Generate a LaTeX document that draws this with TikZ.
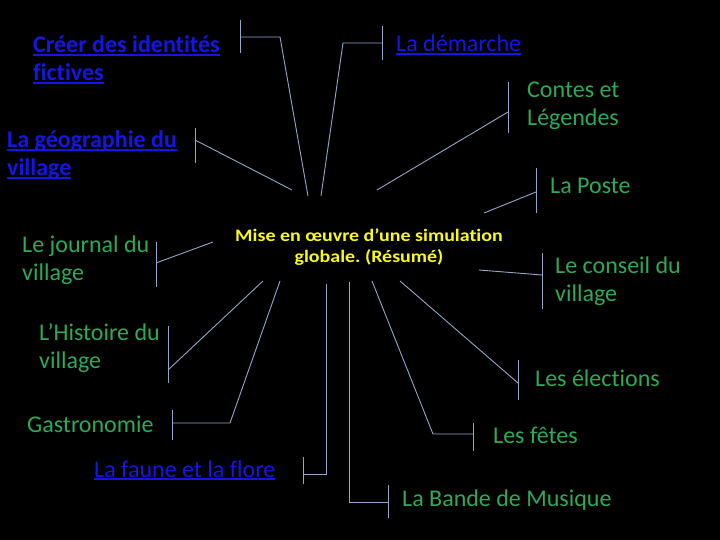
\documentclass[tikz,border=0pt]{standalone}
\usepackage{fontspec}
\setmainfont[Ligatures=NoCommon]{Carlito}
\usepackage{tikz}
\usetikzlibrary{calc,positioning}
\definecolor{bleuL}{RGB}{22,22,228}
\definecolor{vertL}{RGB}{45,170,85}
\definecolor{jauneL}{RGB}{250,250,25}
\definecolor{traitL}{RGB}{150,165,200}
\frenchspacing
% souligne un lien (trait plus epais que \underline)
\newcommand{\lien}[1]{\setbox0\hbox{#1}\rlap{\rule[-2.6pt]{\wd0}{1.8pt}}\box0}
% titre un peu elargi
\newcommand{\elargi}[1]{\scalebox{1.14}[1]{#1}}

\begin{document}
\begin{tikzpicture}[x=1pt,y=-1pt,
    vert/.style={text=vertL, font=\fontsize{24}{28}\selectfont, inner sep=0pt, anchor=base west, align=left},
    bleu/.style={text=bleuL, font=\fontsize{24}{28}\selectfont, inner sep=0pt, anchor=base west, align=left},
    titre/.style={text=jauneL, font=\fontsize{17.5}{21}\selectfont\bfseries, inner sep=0pt, anchor=base, align=center},
    branche/.style={traitL, line width=0.9pt}]
      % fond noir, taille de la diapositive
      \fill[black] (0,0) rectangle (720,540);
      \useasboundingbox (0,0) rectangle (720,540);

      % Titre central (ancre = ligne de base de la derniere ligne)
      \node[titre] (titre) at (369,262) {\elargi{Mise en œuvre d’une simulation}\\\elargi{globale. (Résumé)}};

      % Etiquettes (liens en bleu, rubriques en vert)
      \node[bleu] (creer) at (33,81) {\bfseries\lien{Créer des identités}\\\bfseries\lien{fictives}};
      \node[bleu] (demarche) at (396,52) {\lien{La démarche}};
      \node[bleu] (geo) at (7,176) {\bfseries\lien{La géographie du}\\\bfseries\lien{village}};
      \node[vert] (contes) at (527,126) {Contes et\\Légendes};
      \node[vert] (poste) at (550,194) {La Poste};
      \node[vert] (journal) at (22,280) {Le journal du\\village};
      \node[vert] (conseil) at (555,301) {Le conseil du\\village};
      \node[vert] (histoire) at (39,368) {L’Histoire du\\village};
      \node[vert] (elections) at (535,386) {Les élections};
      \node[vert] (gastro) at (27,432) {Gastronomie};
      \node[vert] (fetes) at (493,443) {Les fêtes};
      \node[bleu] (faune) at (94,477) {\lien{La faune et la flore}};
      \node[vert] (bande) at (402,506) {La Bande de Musique};

      % Points d'attache des accolades (milieu) et extremites vers le titre
      \coordinate (creerM) at (240,37);     \coordinate (creerK) at (280,37);    \coordinate (creerE) at (308,196);
      \coordinate (demarcheM) at (382,43);  \coordinate (demarcheK) at (343,43); \coordinate (demarcheE) at (321,196);
      \coordinate (geoM) at (195,140);      \coordinate (geoE) at (292,190);
      \coordinate (contesM) at (508,112);   \coordinate (contesE) at (377,190);
      \coordinate (posteM) at (536,192);    \coordinate (posteE) at (484,213);
      \coordinate (journalM) at (156,263);  \coordinate (journalE) at (213,242);
      \coordinate (conseilM) at (542,275);  \coordinate (conseilE) at (479,270);
      \coordinate (histoireM) at (168,370); \coordinate (histoireE) at (263,281);
      \coordinate (electionsM) at (518,383);\coordinate (electionsE) at (400,281);
      \coordinate (gastroM) at (172,423);   \coordinate (gastroK) at (230,423);  \coordinate (gastroE) at (280,281);
      \coordinate (fetesM) at (473,434);    \coordinate (fetesK) at (433,434);   \coordinate (fetesE) at (372,281);
      \coordinate (fauneM) at (303,474);    \coordinate (fauneK) at (326,474);   \coordinate (fauneE) at (326,284);
      \coordinate (bandeM) at (388,502);    \coordinate (bandeK) at (349,502);   \coordinate (bandeE) at (349,282);

      % Accolades verticales: milieu / haut / bas
      \foreach \n/\h/\b in {creer/-17/16, demarche/-17/17, geo/-12/23, contes/-30/21,
          poste/-24/21, journal/-21/24, conseil/-22/34, histoire/-44/13,
          elections/-23/17, gastro/-13/17, fetes/-11/17, faune/-17/10, bande/-17/16}
        \draw[branche] ($(\n M)+(0,\h)$) -- ($(\n M)+(0,\b)$);

      % Branches droites
      \draw[branche] (geoM) -- (geoE);
      \draw[branche] (contesM) -- (contesE);
      \draw[branche] (posteM) -- (posteE);
      \draw[branche] (journalM) -- (journalE);
      \draw[branche] (conseilM) -- (conseilE);
      \draw[branche] (histoireM) -- (histoireE);
      \draw[branche] (electionsM) -- (electionsE);

      % Branches coudees
      \draw[branche] (creerM) -- (creerK) -- (creerE);
      \draw[branche] (demarcheM) -- (demarcheK) -- (demarcheE);
      \draw[branche] (gastroM) -- (gastroK) -- (gastroE);
      \draw[branche] (fetesM) -- (fetesK) -- (fetesE);
      \draw[branche] (fauneM) -- (fauneK) -- (fauneE);
      \draw[branche] (bandeM) -- (bandeK) -- (bandeE);
\end{tikzpicture}
\end{document}
